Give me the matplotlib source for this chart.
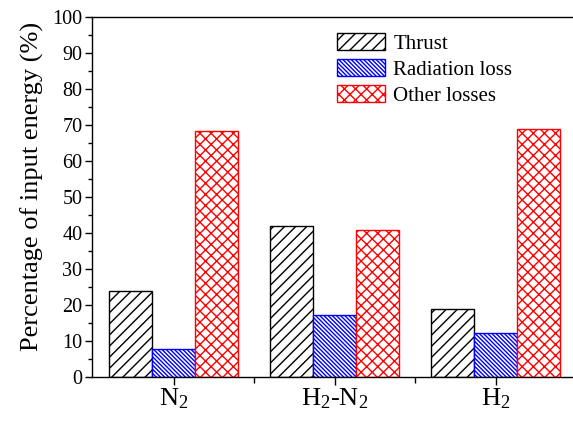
import matplotlib
matplotlib.use("Agg")
import matplotlib.pyplot as plt
import numpy as np
from matplotlib.ticker import MultipleLocator, FixedLocator

plt.rcParams['font.family'] = ['Liberation Serif', 'DejaVu Serif']
plt.rcParams['mathtext.fontset'] = 'custom'
plt.rcParams['mathtext.rm'] = 'Liberation Serif'
plt.rcParams['mathtext.it'] = 'Liberation Serif:italic'
plt.rcParams['hatch.linewidth'] = 1.0

categories = ['N$_2$', 'H$_2$-N$_2$', 'H$_2$']
thrust = [24.0, 42.0, 19.0]
radiation = [7.7, 17.2, 12.2]
other = [68.3, 40.7, 69.0]
series_names = ['Thrust', 'Radiation loss', 'Other losses']

fig = plt.figure(figsize=(5.73, 4.21), dpi=100)
ax = fig.add_axes([92/573, 44/421, 1.02 - 92/573, (377-17)/421])

x = np.arange(1, len(categories) + 1)
w = 0.267
ax.bar(x - w, thrust, w, facecolor='white', edgecolor='black', hatch='///', linewidth=1.0, label=series_names[0])
ax.bar(x, radiation, w, facecolor='white', edgecolor='blue', hatch='\\\\\\\\\\\\\\\\', linewidth=1.0, label=series_names[1])
ax.bar(x + w, other, w, facecolor='white', edgecolor='red', hatch='xxx', linewidth=1.0, label=series_names[2])

ax.set_xlim(0.491, 3.55)
ax.set_ylim(0, 100)
ax.set_xticks(x)
ax.set_xticklabels(categories, fontsize=19)
ax.xaxis.set_minor_locator(FixedLocator([1.5, 2.5]))
ax.yaxis.set_major_locator(MultipleLocator(10))
ax.yaxis.set_minor_locator(MultipleLocator(5))
ax.tick_params(axis='y', which='major', labelsize=14.5, direction='out', length=5, width=1, pad=2)
ax.tick_params(axis='y', which='minor', direction='out', length=3, width=1)
ax.tick_params(axis='x', which='major', direction='out', length=6, width=1, pad=1)
ax.tick_params(axis='x', which='minor', direction='out', length=4, width=1)
ax.spines['right'].set_visible(False)
for s in ['left', 'bottom', 'top']:
    ax.spines[s].set_linewidth(1.0)

ax.set_ylabel('Percentage of input energy (%)', fontsize=19)
ax.yaxis.set_label_coords(-0.098, 0.53)

ax.legend(loc='upper left', bbox_to_anchor=(337/573, 1 - 33/421), bbox_transform=fig.transFigure,
          frameon=False, fontsize=15, handlelength=2.3, handleheight=0.9,
          labelspacing=0.25, handletextpad=0.4, borderaxespad=0, borderpad=0)

fig.savefig('out.png', dpi=100)
